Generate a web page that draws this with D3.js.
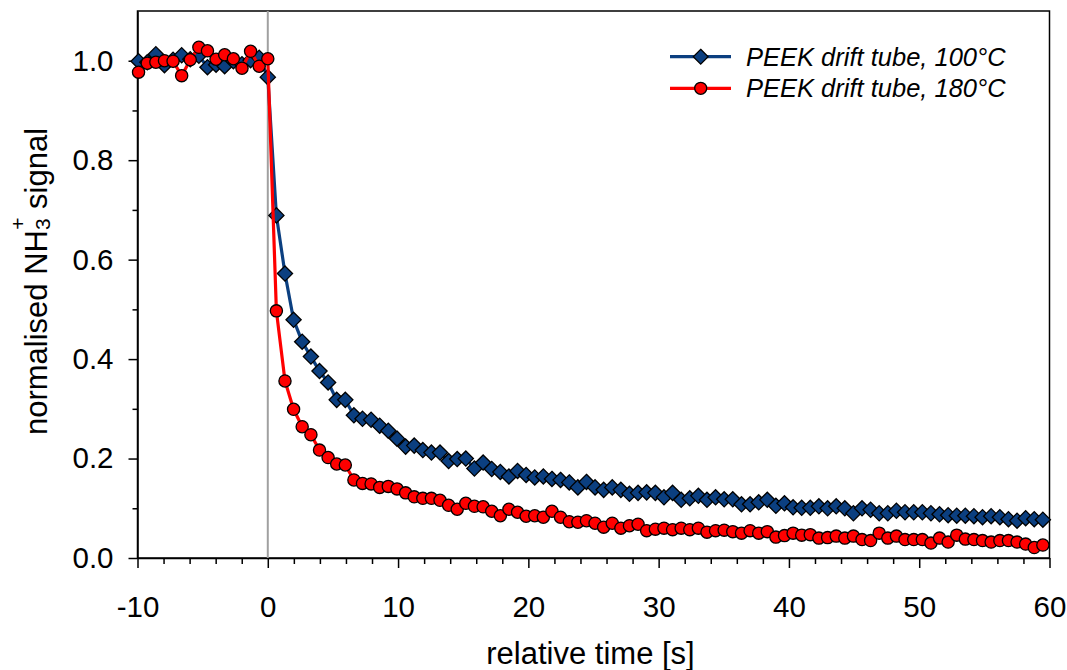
<!DOCTYPE html>
<html><head><meta charset="utf-8">
<script src="https://cdn.jsdelivr.net/npm/d3@7"></script>
<style>
body{margin:0;background:#fff}
svg{display:block}
text{font-family:"Liberation Sans",Arial,sans-serif;fill:#000}
</style>
</head><body>
<svg id="c" width="1067" height="670"></svg>
<script>
// relative time [s]
const time = [-9.92,-9.25,-8.59,-7.93,-7.27,-6.61,-5.95,-5.29,-4.63,-3.97,-3.31,-2.64,-1.98,-1.32,-0.66,0,
0.66,1.32,1.98,2.64,3.31,3.97,4.63,5.29,5.95,6.61,
7.27,7.93,8.59,9.25,9.92,10.58,11.24,11.90,12.56,13.22,
13.88,14.54,15.20,15.86,16.53,17.19,17.85,18.51,19.17,19.83,
20.49,21.15,21.81,22.47,23.14,23.80,24.46,25.12,25.78,26.44,
27.10,27.76,28.42,29.08,29.75,30.41,31.07,31.73,32.39,33.05,
33.71,34.37,35.03,35.69,36.36,37.02,37.68,38.34,39.00,39.66,
40.32,40.98,41.64,42.30,42.97,43.63,44.29,44.95,45.61,46.27,
46.93,47.59,48.25,48.91,49.58,50.24,50.90,51.56,52.22,52.88,
53.54,54.20,54.86,55.52,56.19,56.85,57.51,58.17,58.83,59.49];

// PEEK drift tube, 100°C
const peek100 = [0.999,0.997,1.013,0.991,1.002,1.011,1.003,1.010,0.987,0.992,0.989,0.999,0.993,1.001,1.006,0.967,
0.689,0.572,0.479,0.435,0.405,0.376,0.353,0.318,0.318,0.287,
0.280,0.278,0.266,0.256,0.240,0.224,0.226,0.217,0.212,0.212,
0.195,0.199,0.200,0.180,0.192,0.179,0.173,0.164,0.175,0.167,
0.162,0.164,0.159,0.157,0.152,0.142,0.153,0.142,0.137,0.142,
0.137,0.129,0.131,0.132,0.131,0.122,0.131,0.117,0.120,0.125,
0.117,0.122,0.118,0.118,0.108,0.108,0.112,0.117,0.105,0.110,
0.102,0.101,0.101,0.104,0.100,0.104,0.100,0.090,0.100,0.097,
0.090,0.090,0.095,0.092,0.092,0.092,0.090,0.088,0.086,0.085,
0.085,0.084,0.082,0.084,0.082,0.078,0.075,0.080,0.078,0.077];

// PEEK drift tube, 180°C
const peek180 = [0.977,0.995,0.997,1.000,0.999,0.970,1.002,1.027,1.020,1.003,1.012,1.004,0.985,1.019,0.989,1.004,
0.497,0.356,0.299,0.264,0.248,0.217,0.202,0.189,0.187,0.157,
0.150,0.149,0.142,0.144,0.139,0.131,0.123,0.120,0.120,0.116,
0.106,0.098,0.110,0.104,0.103,0.094,0.085,0.098,0.092,0.084,
0.085,0.082,0.094,0.082,0.073,0.072,0.075,0.070,0.062,0.070,
0.060,0.065,0.068,0.055,0.058,0.060,0.057,0.060,0.057,0.060,
0.052,0.055,0.056,0.053,0.050,0.055,0.050,0.053,0.042,0.045,
0.050,0.046,0.047,0.040,0.041,0.044,0.040,0.044,0.037,0.035,
0.050,0.040,0.044,0.037,0.037,0.037,0.030,0.040,0.032,0.046,
0.038,0.037,0.035,0.032,0.035,0.035,0.032,0.028,0.021,0.026];

const seriesNames = ["PEEK drift tube, 100°C", "PEEK drift tube, 180°C"];
const xTicks = [-10, 0, 10, 20, 30, 40, 50, 60];
const xTickLabels = ["-10", "0", "10", "20", "30", "40", "50", "60"];
const xMinorTicks = [-8, -6, -4, -2, 2, 4, 6, 8, 12, 14, 16, 18, 22, 24, 26, 28, 32, 34, 36, 38, 42, 44, 46, 48, 52, 54, 56, 58];
const yTicks = [0.0, 0.2, 0.4, 0.6, 0.8, 1.0];
const yTickLabels = ["0.0", "0.2", "0.4", "0.6", "0.8", "1.0"];
const yMinorTicks = [0.1, 0.3, 0.5, 0.7, 0.9];

const BLUE = "#0b3f80", RED = "#ff0000";
const svg = d3.select("#c");
const m = {l: 137.5, r: 1049.5, t: 11, b: 558};
const x = d3.scaleLinear().domain([-10, 60]).range([m.l, m.r]);
const y = d3.scaleLinear().domain([0, 1.1]).range([m.b, m.t]);

// x axis
const gx = svg.append("g").attr("transform", `translate(0,${m.b})`)
  .call(d3.axisBottom(x).tickValues(xTicks).tickSize(10).tickSizeOuter(0).tickPadding(28)
    .tickFormat((d, i) => xTickLabels[i]));
const gxm = svg.append("g").attr("transform", `translate(0,${m.b})`)
  .call(d3.axisBottom(x).tickValues(xMinorTicks).tickSize(6).tickFormat(""));
gxm.select(".domain").remove();
// y axis
const gy = svg.append("g").attr("transform", `translate(${m.l},0)`)
  .call(d3.axisLeft(y).tickValues(yTicks).tickSize(9).tickSizeOuter(0).tickPadding(15)
    .tickFormat((d, i) => yTickLabels[i]));
const gym = svg.append("g").attr("transform", `translate(${m.l},0)`)
  .call(d3.axisLeft(y).tickValues(yMinorTicks).tickSize(5).tickFormat(""));
gym.select(".domain").remove();
[gx, gxm, gy, gym].forEach(g => {
  g.selectAll("line").attr("stroke", "#000").attr("stroke-width", 1.5);
  g.selectAll(".domain").attr("stroke", "#000").attr("stroke-width", 1.5);
  g.selectAll("text").attr("font-size", 29.5).attr("font-family", "Liberation Sans, Arial, sans-serif");
});

// frame
svg.append("rect").attr("x", m.l).attr("y", m.t).attr("width", m.r - m.l).attr("height", m.b - m.t)
  .attr("fill", "none").attr("stroke", "#000").attr("stroke-width", 1.5);

// zero line
svg.append("line").attr("x1", x(0)).attr("x2", x(0)).attr("y1", m.t).attr("y2", m.b)
  .attr("stroke", "#a0a0a0").attr("stroke-width", 2);

const diamond = h => `M0,${-h}L${h},0L0,${h}L${-h},0Z`;
const line = d3.line().x(d => x(d[0])).y(d => y(d[1]));
const s100 = time.map((t, i) => [t, peek100[i]]);
const s180 = time.map((t, i) => [t, peek180[i]]);

svg.append("path").datum(s100).attr("d", line).attr("fill", "none").attr("stroke", BLUE).attr("stroke-width", 3.2);
svg.append("g").selectAll("path").data(s100).join("path")
  .attr("transform", d => `translate(${x(d[0])},${y(d[1])})`)
  .attr("d", diamond(7.6)).attr("fill", BLUE).attr("stroke", "#000").attr("stroke-width", 1.3);

svg.append("path").datum(s180).attr("d", line).attr("fill", "none").attr("stroke", RED).attr("stroke-width", 3.2);
svg.append("g").selectAll("circle").data(s180).join("circle")
  .attr("cx", d => x(d[0])).attr("cy", d => y(d[1])).attr("r", 6.1)
  .attr("fill", RED).attr("stroke", "#000").attr("stroke-width", 1.3);

// legend
const leg = [{name: seriesNames[0], color: BLUE, sym: "d", y: 56.7}, {name: seriesNames[1], color: RED, sym: "c", y: 88.3}];
leg.forEach(l => {
  svg.append("line").attr("x1", 670).attr("x2", 731).attr("y1", l.y).attr("y2", l.y)
    .attr("stroke", l.color).attr("stroke-width", 3.2);
  if (l.sym === "d") {
    svg.append("path").attr("transform", `translate(700.7,${l.y})`).attr("d", diamond(7.4))
      .attr("fill", l.color).attr("stroke", "#000").attr("stroke-width", 1.3);
  } else {
    svg.append("circle").attr("cx", 700.7).attr("cy", l.y).attr("r", 6)
      .attr("fill", l.color).attr("stroke", "#000").attr("stroke-width", 1.3);
  }
  svg.append("text").attr("x", 746).attr("y", l.y + 8.9).attr("font-size", 25.5)
    .attr("font-style", "italic").text(l.name);
});

// axis titles
svg.append("text").attr("x", (m.l + m.r) / 2 - 3).attr("y", 664).attr("text-anchor", "middle")
  .attr("font-size", 31).text("relative time [s]");
const yl = svg.append("text").attr("transform", `translate(47,${(m.t + m.b) / 2 - 3}) rotate(-90)`)
  .attr("text-anchor", "middle").attr("font-size", 31);
yl.append("tspan").text("normalised NH");
yl.append("tspan").attr("font-size", 21).attr("dy", 3).text("3");
yl.append("tspan").attr("font-size", 21).attr("dx", -11.5).attr("dy", -25).text("+");
yl.append("tspan").attr("dy", 22).text(" signal");
</script>
</body></html>
